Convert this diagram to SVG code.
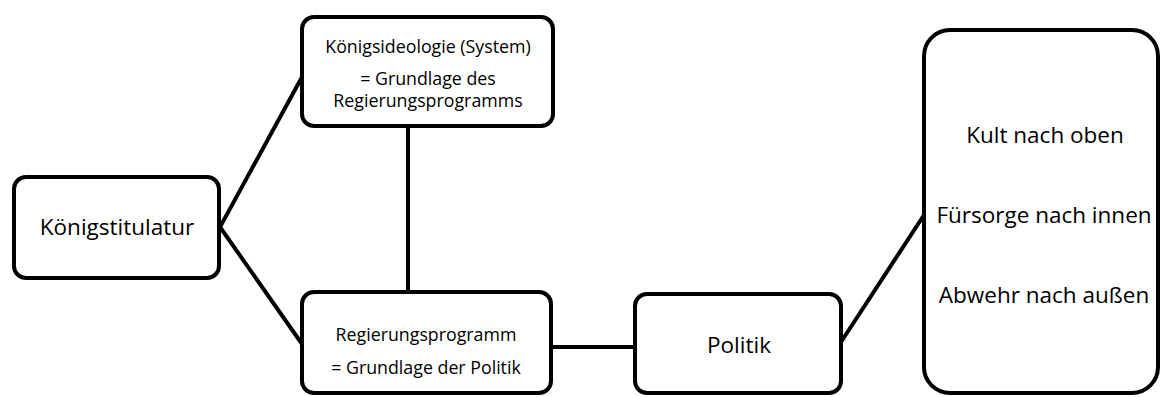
<svg xmlns="http://www.w3.org/2000/svg" width="1161" height="397" viewBox="0 0 1161 397">
<style>
.box{fill:#fff;stroke:#000;stroke-width:4}
.ln{stroke:#000;stroke-width:4;fill:none}
text{font-family:"Open Sans","Noto Sans",sans-serif;fill:#000;text-anchor:middle}
.big{font-size:22.5px}
.sm{font-size:17.8px}
</style>
<rect width="1161" height="397" fill="#fff"/>
<g id="connectors">
<polyline class="ln" points="302,77 220,227 302,344"/>
<line class="ln" x1="408" y1="126" x2="408" y2="292"/>
<line class="ln" x1="551" y1="347" x2="635" y2="347"/>
<line class="ln" x1="841" y1="342" x2="924" y2="215"/>
</g>
<g id="koenigstitulatur">
<rect class="box" x="14" y="177" width="205" height="101" rx="12"/>
<text class="big" x="117" y="235">Königstitulatur</text>
</g>
<g id="koenigsideologie">
<rect class="box" x="302" y="17" width="251" height="109" rx="12"/>
<text class="sm" x="428" y="53">Königsideologie (System)</text>
<text class="sm" x="428" y="85">= Grundlage des</text>
<text class="sm" x="428" y="107">Regierungsprogramms</text>
</g>
<g id="regierungsprogramm">
<rect class="box" x="302" y="292" width="249" height="101" rx="12"/>
<text class="sm" x="426" y="341">Regierungsprogramm</text>
<text class="sm" x="426" y="374">= Grundlage der Politik</text>
</g>
<g id="politik">
<rect class="box" x="635" y="294" width="206" height="99" rx="12"/>
<text class="big" x="739" y="353">Politik</text>
</g>
<g id="bereiche">
<rect class="box" x="924" y="30" width="234" height="363" rx="26"/>
<text class="big" x="1045" y="143">Kult nach oben</text>
<text class="big" x="1044" y="223">Fürsorge nach innen</text>
<text class="big" x="1044" y="303">Abwehr nach außen</text>
</g>
</svg>
